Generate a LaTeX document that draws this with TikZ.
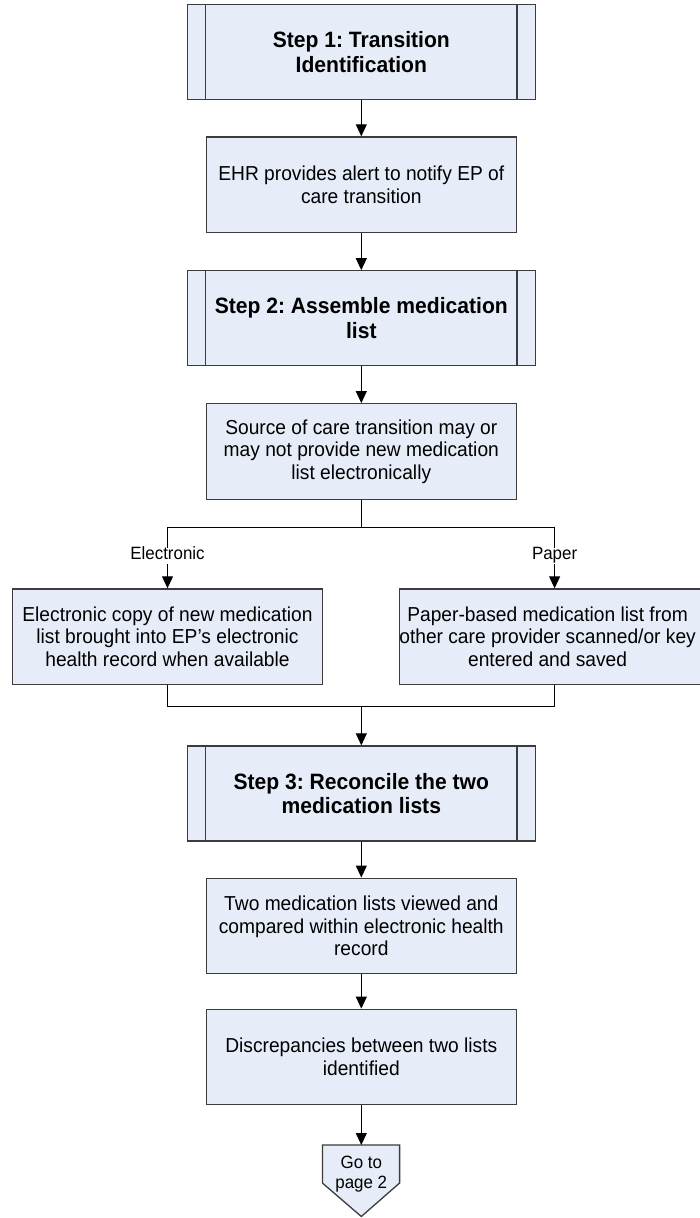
\documentclass[tikz,border=0pt]{standalone}
\usepackage{fontspec}
\setmainfont{Liberation Sans}[FakeStretch=0.95]
\usepackage{xcolor}
\usepackage{tikz}
\usetikzlibrary{arrows.meta}

\definecolor{boxfill}{RGB}{230,236,248}
\definecolor{boxline}{RGB}{60,60,60}
\newcommand{\stepfont}{\fontsize{22.2}{24.7}\selectfont\bfseries}
\newcommand{\taskfont}{\fontsize{20.2}{22.5}\selectfont}
\newcommand{\branchfont}{\fontsize{17.8}{20}\selectfont}
\frenchspacing

\begin{document}
\begin{tikzpicture}[x=1pt,y=-1pt,
        stepbox/.style={draw=boxline,fill=boxfill,line width=1.3pt,minimum width=348pt,
            minimum height=95pt,align=center,font=\stepfont,inner sep=2pt},
        taskbox/.style={draw=boxline,fill=boxfill,line width=1.3pt,minimum width=310pt,
            minimum height=95.5pt,align=center,font=\taskfont,inner sep=2pt},
        branchlabel/.style={fill=white,font=\branchfont,inner xsep=2pt,inner ysep=3pt,
            text height=1.5ex,text depth=.3ex},
        flow/.style={line width=1pt,-{Triangle[width=11pt,length=12pt]}},
        link/.style={line width=1pt},
        sideline/.style={draw=boxline,line width=1.3pt}]

        \useasboundingbox (0,0) rectangle (699,1218);

        % Steps
        \node[stepbox] (step1) at (361.3,52.3) {Step 1: Transition\\Identification};
        \node[stepbox] (step2) at (361.3,318.3) {Step 2: Assemble medication\\list};
        \node[stepbox] (step3) at (361.3,793.5) {Step 3: Reconcile the two\\medication lists};

        % inner lines of the step boxes
        \draw[sideline] ([xshift=19pt]step1.north west) -- ([xshift=19pt]step1.south west);
        \draw[sideline] ([xshift=-19pt]step1.north east) -- ([xshift=-19pt]step1.south east);
        \draw[sideline] ([xshift=19pt]step2.north west) -- ([xshift=19pt]step2.south west);
        \draw[sideline] ([xshift=-19pt]step2.north east) -- ([xshift=-19pt]step2.south east);
        \draw[sideline] ([xshift=19pt]step3.north west) -- ([xshift=19pt]step3.south west);
        \draw[sideline] ([xshift=-19pt]step3.north east) -- ([xshift=-19pt]step3.south east);

        % Tasks
        \node[taskbox] (alert) at (361.3,184.7) {EHR provides alert to notify EP of\\care transition};
        \node[taskbox] (source) at (361.3,451.5) {Source of care transition may or\\may not provide new medication\\list electronically};
        \node[taskbox] (elec) at (167.5,636.7) {Electronic copy of new medication\\list brought into EP’s electronic\\health record when available};
        % box runs off the page, its text sits left of the middle
        \node[taskbox] (paper) at (554.6,636.7) {\makebox[306pt][l]{\hspace*{-4pt}\parbox{300pt}{\centering
            Paper-based medication list from\\other care provider scanned/or key\\entered and saved}}};
        \node[taskbox] (compare) at (361.3,925.9) {Two medication lists viewed and\\compared within electronic health\\record};
        \node[taskbox] (discrep) at (361.3,1057) {Discrepancies between two lists\\identified};

        % off-page connector
        \filldraw[draw=boxline,fill=boxfill,line width=1.3pt] (322.4,1145) -- (399.6,1145)
            -- (399.6,1183) -- (361.3,1216.5) -- (322.4,1183) -- cycle;
        \coordinate (gotop) at (361.3,1145);
        \node[font=\branchfont,align=center] (goto) at (361.3,1174) {Go to\\page 2};

        % arrows straight down
        \draw[flow] (step1) -- (alert);
        \draw[flow] (alert) -- (step2);
        \draw[flow] (step2) -- (source);
        \draw[flow] (step3) -- (compare);
        \draw[flow] (compare) -- (discrep);
        \draw[flow] (discrep) -- (gotop);

        % split into electronic and paper
        \coordinate (split) at (361.3,527);
        \draw[link] (source) -- (split);
        \draw[flow] (split) -| (elec);
        \draw[flow] (split) -| (paper);
        \node[branchlabel] (lblelec) at (167.5,556) {Electronic};
        \node[branchlabel] (lblpaper) at (554.6,556) {Paper};

        % join again
        \coordinate (merge) at (361.3,706.7);
        \draw[link] (elec) |- (merge) -| (paper);
        \draw[flow] (merge) -- (step3);

    \end{tikzpicture}
\end{document}
